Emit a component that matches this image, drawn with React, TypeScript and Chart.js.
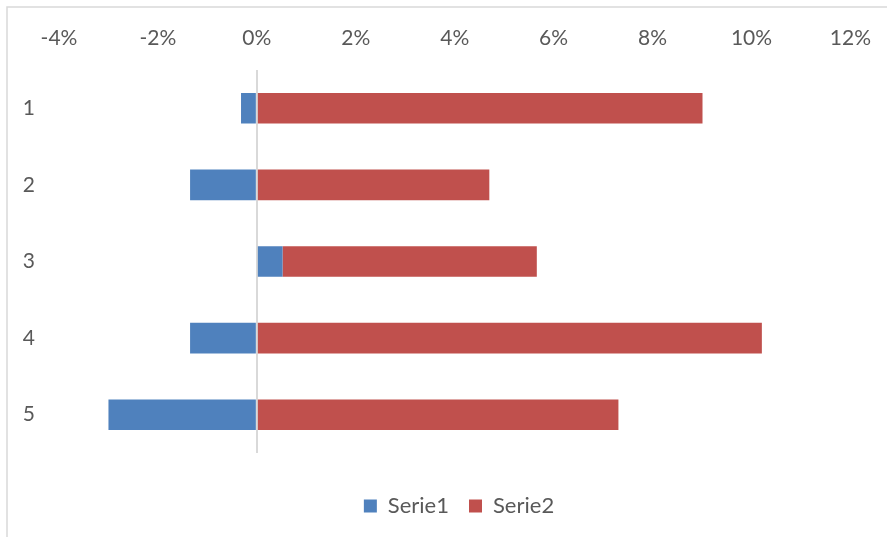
import React, { useEffect, useRef } from "react";
import { Chart, registerables } from "chart.js";

Chart.register(...registerables);

const categories = ["1", "2", "3", "4", "5"];
const serie1 = [-0.32, -1.35, 0.52, -1.35, -3.0];
const serie2 = [9.01, 4.7, 5.14, 10.21, 7.31];
const xMin = -4;
const xMax = 12;
const xStep = 2;

const FONT = "Lato";
const TEXT = "#595959";

const framePlugin = {
  id: "frame",
  beforeDraw(chart: any) {
    const ctx = chart.ctx;
    ctx.save();
    ctx.fillStyle = "#ffffff";
    ctx.fillRect(0, 0, chart.width, chart.height);
    ctx.strokeStyle = "#D9D9D9";
    ctx.lineWidth = 1.5;
    ctx.beginPath();
    ctx.moveTo(7, chart.height + 5);
    ctx.lineTo(7, 7);
    ctx.lineTo(887, 7);
    ctx.stroke();
    ctx.restore();
  },
};

const legendShift = {
  id: "legendShift",
  afterLayout(chart: any) {
    const lg = chart.legend;
    if (lg) {
      lg.left += 33;
      lg.right += 33;
    }
  },
};

export default function App() {
  const ref = useRef<HTMLCanvasElement | null>(null);
  useEffect(() => {
    if (!ref.current) return;
    const chart = new Chart(ref.current, {
      type: "bar",
      data: {
        labels: categories,
        datasets: [
          { label: "Serie1", data: serie1, backgroundColor: "#4F81BD", borderWidth: 0 },
          { label: "Serie2", data: serie2, backgroundColor: "#C0504D", borderWidth: 0 },
        ],
      },
      options: {
        indexAxis: "y",
        animation: false,
        responsive: false,
        maintainAspectRatio: false,
        layout: { padding: { left: 0, right: 38, top: 0, bottom: 10 } },
        datasets: { bar: { barPercentage: 1, categoryPercentage: 0.4 } },
        scales: {
          x: {
            position: "top",
            stacked: true,
            min: xMin,
            max: xMax,
            z: 1,
            border: { display: false },
            grid: {
              drawTicks: false,
              lineWidth: 2,
              color: (c: any) => (c.tick && c.tick.value === 0 ? "#D9D9D9" : "rgba(0,0,0,0)"),
            },
            ticks: {
              stepSize: xStep,
              padding: 19,
              color: TEXT,
              font: { family: FONT, size: 21 },
              callback: (v: any) => `${v}%`,
            },
            afterFit: (s: any) => {
              s.height = 70;
            },
          },
          y: {
            stacked: true,
            border: { display: false },
            grid: { display: false, drawTicks: false },
            ticks: { padding: 24, color: TEXT, font: { family: FONT, size: 21 } },
            afterFit: (s: any) => {
              s.width = 59;
            },
          },
        },
        plugins: {
          tooltip: { enabled: false },
          legend: {
            position: "bottom",
            title: { display: true, text: "", font: { size: 10 }, padding: { top: 0, bottom: 10 } },
            labels: {
              boxWidth: 13,
              boxHeight: 13,
              padding: 20,
              color: TEXT,
              font: { family: FONT, size: 22 },
            },
          },
        },
      },
      plugins: [framePlugin, legendShift],
    } as any);
    return () => chart.destroy();
  }, []);
  return (
    <div style={{ position: "absolute", left: 0, top: 0, width: 890, height: 537 }}>
      <canvas ref={ref} width={890} height={537} />
    </div>
  );
}
